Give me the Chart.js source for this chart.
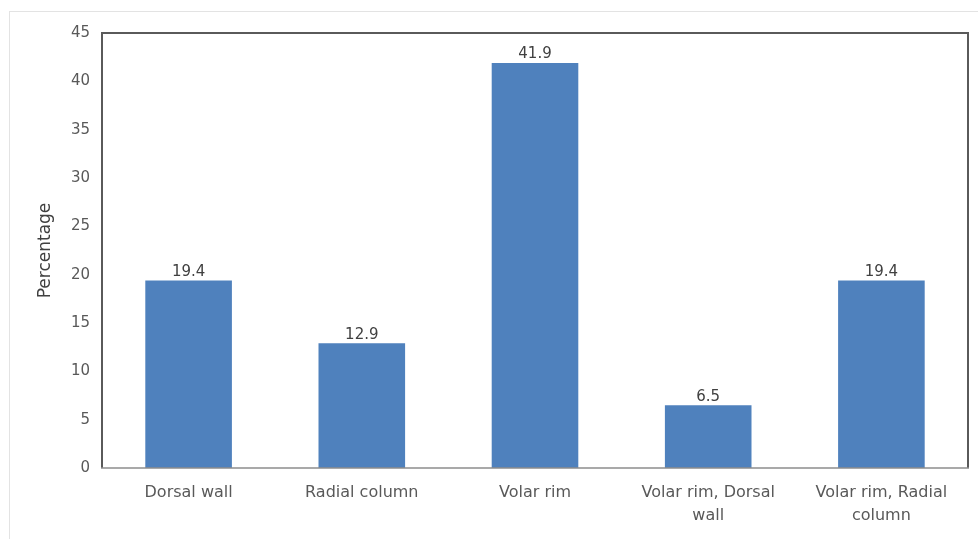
<!DOCTYPE html>
<html>
<head>
<meta charset="utf-8">
<script src="https://cdn.jsdelivr.net/npm/chart.js@4"></script>
<style>
  html, body { margin: 0; padding: 0; background: #fff; overflow: hidden; }
  #frame { position: absolute; left: 9px; top: 11px; width: 1000px; height: 600px; border: 1px solid #e3e3e3; }
  #wrap { position: absolute; left: 0; top: 0; width: 978px; height: 539px; }
</style>
</head>
<body>
<div id="frame"></div>
<div id="wrap"><canvas id="fractureChart"></canvas></div>
<script>
// Chart data
const categories = [
    'Dorsal wall',
    'Radial column',
    'Volar rim',
    ['Volar rim, Dorsal', 'wall'],
    ['Volar rim, Radial', 'column']
];
const percentages = [19.4, 12.9, 41.9, 6.5, 19.4];
const yTicks = [0, 5, 10, 15, 20, 25, 30, 35, 40, 45];

const fontFamily = '"DejaVu Sans", sans-serif';

// Box around plot area + value labels
const boxAndLabels = {
    id: 'boxAndLabels',
    afterDatasetsDraw(chart) {
        const ctx = chart.ctx;
        const a = chart.chartArea;
        ctx.save();
        ctx.lineWidth = 2;
        ctx.strokeStyle = '#5a5a5a';
        ctx.beginPath();
        ctx.moveTo(a.left, a.bottom);
        ctx.lineTo(a.left, a.top);
        ctx.lineTo(a.right, a.top);
        ctx.lineTo(a.right, a.bottom);
        ctx.stroke();
        ctx.strokeStyle = '#8c8c8c';
        ctx.lineWidth = 1.5;
        ctx.beginPath();
        ctx.moveTo(a.left - 1, a.bottom);
        ctx.lineTo(a.right + 1, a.bottom);
        ctx.stroke();

        ctx.fillStyle = '#404040';
        ctx.font = '15px ' + fontFamily;
        ctx.textAlign = 'center';
        ctx.textBaseline = 'bottom';
        chart.getDatasetMeta(0).data.forEach((bar, i) => {
            ctx.fillText(percentages[i].toFixed(1), bar.x, bar.y - 1);
        });
        ctx.restore();
    }
};

new Chart(document.getElementById('fractureChart').getContext('2d'), {
    type: 'bar',
    data: {
        labels: categories,
        datasets: [{
            label: 'Percentage',
            data: percentages,
            backgroundColor: '#4f81bd',
            borderWidth: 0,
            categoryPercentage: 1,
            barPercentage: 0.5
        }]
    },
    options: {
        responsive: true,
        maintainAspectRatio: false,
        animation: false,
        layout: { padding: { left: 0, top: 33, right: 10, bottom: 0 } },
        plugins: {
            legend: { display: false },
            tooltip: { enabled: false }
        },
        scales: {
            y: {
                min: 0,
                max: 45,
                afterBuildTicks: scale => { scale.ticks = yTicks.map(v => ({ value: v })); },
                afterFit: scale => { scale.width = 102; },
                grid: { display: false, drawTicks: false },
                border: { display: false },
                ticks: {
                    color: '#595959',
                    padding: 12,
                    font: { family: fontFamily, size: 15 }
                },
                title: {
                    display: true,
                    text: 'Percentage',
                    color: '#404040',
                    padding: { top: 35, bottom: 0 },
                    font: { family: fontFamily, size: 17 }
                }
            },
            x: {
                afterFit: scale => { scale.height = 71; },
                grid: { display: false, drawTicks: false },
                border: { display: false },
                ticks: {
                    color: '#595959',
                    padding: 13,
                    maxRotation: 0,
                    autoSkip: false,
                    font: { family: fontFamily, size: 16, lineHeight: 1.45 }
                }
            }
        }
    },
    plugins: [boxAndLabels]
});
</script>
</body>
</html>
